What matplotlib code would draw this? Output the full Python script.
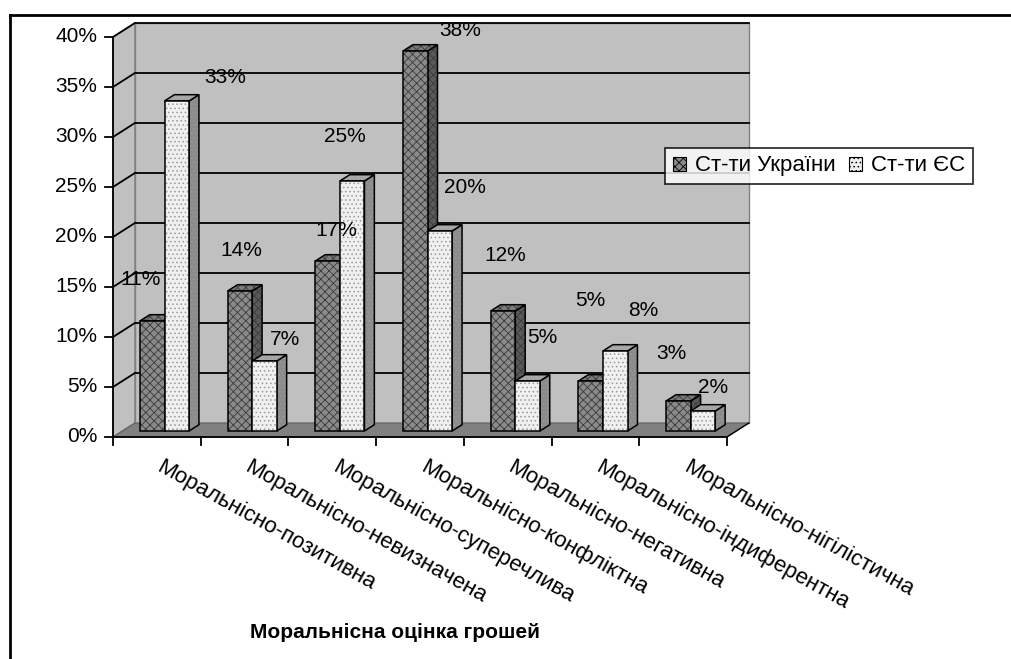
import matplotlib
matplotlib.use("Agg")
from matplotlib import pyplot as plt
from matplotlib.patches import Polygon, Patch
from matplotlib.lines import Line2D

plt.rcParams['font.family'] = ['Liberation Sans', 'DejaVu Sans']
plt.rcParams['hatch.linewidth'] = 0.6

categories = ["Моральнісно-позитивна", "Моральнісно-невизначена", "Моральнісно-суперечлива",
              "Моральнісно-конфліктна", "Моральнісно-негативна", "Моральнісно-індиферентна",
              "Моральнісно-нігілістична"]
ukraine = [11, 14, 17, 38, 12, 5, 3]
eu = [33, 7, 25, 20, 5, 8, 2]
series_names = ["Ст-ти України", "Ст-ти ЄС"]
yticks = [0, 5, 10, 15, 20, 25, 30, 35, 40]
xlabel = "Моральнісна оцінка грошей"

# label offsets (pixels) copied from the excel layout
ua_off = [(-12, 41), (1, 40), (9, 30), (45, 20), (2, 55), (0, 80), (-7, 47)]
eu_off = [(48, 23), (20, 21), (-7, 44), (25, 43), (15, 43), (28, 40), (10, 23)]

FS = 15
W, H = 1011, 659
fig = plt.figure(figsize=(W / 100, H / 100), dpi=100)
ax = fig.add_axes([0, 0, 1, 1])
# 1 x-unit = one category (87.7 px), 1 y-unit = 1 % (10 px)
x0, sx, y0, sy = 113, 87.7, 437, 10.0
ax.set_xlim(-x0 / sx, (W - x0) / sx)
ax.set_ylim((y0 - H) / sy, y0 / sy)
ax.axis("off")

n = len(categories)
top = yticks[-1]
DX, DY = 0.25, 1.4  # depth of the 3d box

def poly(pts, fc, ec="none", lw=0, hatch=None, hc=None, z=1):
    if hatch:
        ax.add_patch(Polygon(pts, closed=True, facecolor=fc, edgecolor=hc, lw=0, hatch=hatch, zorder=z))
        ax.add_patch(Polygon(pts, closed=True, fill=False, edgecolor=ec, lw=lw, zorder=z))
    else:
        ax.add_patch(Polygon(pts, closed=True, facecolor=fc, edgecolor=ec, lw=lw, zorder=z))

# walls and floor
poly([(DX, DY), (n + DX, DY), (n + DX, top + DY), (DX, top + DY)], "#c0c0c0", "#808080", 1)
poly([(0, 0), (DX, DY), (DX, top + DY), (0, top)], "#c0c0c0", "#808080", 1)
poly([(0, 0), (n, 0), (n + DX, DY), (DX, DY)], "#808080", "#606060", 0.8)

for v in yticks[1:]:
    ax.plot([DX, n + DX], [v + DY, v + DY], color="black", lw=1.3, zorder=2)
    ax.plot([0, DX], [v, v + DY], color="black", lw=1.3, zorder=2)
for v in yticks:
    ax.plot([-0.09, 0], [v, v], color="black", lw=1.3, zorder=2)
    ax.text(-0.18, v, "%d%%" % v, ha="right", va="center", fontsize=FS)
ax.plot([0, 0], [0, top], color="black", lw=1.3, zorder=2)
ax.plot([0, n], [0, 0], color="black", lw=1.3, zorder=2)
ax.plot([n, n + DX], [0, DY], color="black", lw=1.0, zorder=2)
for i in range(n + 1):
    ax.plot([i, i], [0, -0.8], color="black", lw=1.3, zorder=2)

# bars
f, b, bw = 0.43, 0.45, 0.28
styles = [
    dict(front="#8a8a8a", side="#5a5a5a", top="#7a7a7a", hatch="xxxx", hc="#3a3a3a"),
    dict(front="#f0f0f0", side="#8c8c8c", top="#a8a8a8", hatch="....", hc="#9a9a9a"),
]

def bar3d(xl, v, st):
    xb, yb = xl + f * DX, f * DY
    ddx, ddy = b * DX, b * DY
    poly([(xb + bw, yb), (xb + bw + ddx, yb + ddy), (xb + bw + ddx, yb + v + ddy), (xb + bw, yb + v)],
         st["side"], "black", 1.1, st["hatch"], st["hc"], z=3)
    poly([(xb, yb + v), (xb + bw, yb + v), (xb + bw + ddx, yb + v + ddy), (xb + ddx, yb + v + ddy)],
         st["top"], "black", 1.1, st["hatch"], st["hc"], z=3)
    poly([(xb, yb), (xb + bw, yb), (xb + bw, yb + v), (xb, yb + v)],
         st["front"], "black", 1.1, st["hatch"], st["hc"], z=3)
    return xb + bw / 2, yb + v

for i in range(n):
    for k, (vals, offs) in enumerate([(ukraine, ua_off), (eu, eu_off)]):
        cx, cy = bar3d(i + 0.2 + k * bw, vals[i], styles[k])
        ax.annotate("%d%%" % vals[i], (cx, cy), xytext=(offs[i][0], offs[i][1]),
                    textcoords="offset pixels", ha="center", va="center", fontsize=FS, zorder=5)

for i, c in enumerate(categories):
    ax.text(i + 0.58, -2.0, c, rotation=-29, rotation_mode="anchor", ha="left", va="top", fontsize=FS + 1)

fig.text(250 / W, 1 - 632 / H, xlabel, ha="left", va="center", fontsize=FS, fontweight="bold")

handles = [Patch(facecolor=s["front"], edgecolor="black", hatch=s["hatch"], lw=0.8) for s in styles]
leg = ax.legend(handles, series_names, loc="center", bbox_to_anchor=(819 / W, 1 - 166 / H),
                bbox_transform=fig.transFigure, ncol=2, fontsize=FS + 1, frameon=True, fancybox=False,
                handlelength=0.6, handleheight=0.6, handletextpad=0.4, columnspacing=0.6,
                borderpad=0.35, borderaxespad=0)
leg.get_frame().set_edgecolor("black")
leg.get_frame().set_linewidth(1.3)

# outer chart frame
fig.add_artist(Line2D([10 / W, 1], [1 - 14.5 / H, 1 - 14.5 / H], color="black", lw=2, transform=fig.transFigure))
fig.add_artist(Line2D([10 / W, 10 / W], [0, 1 - 14.5 / H], color="black", lw=2, transform=fig.transFigure))

fig.savefig("out.png", dpi=100)
